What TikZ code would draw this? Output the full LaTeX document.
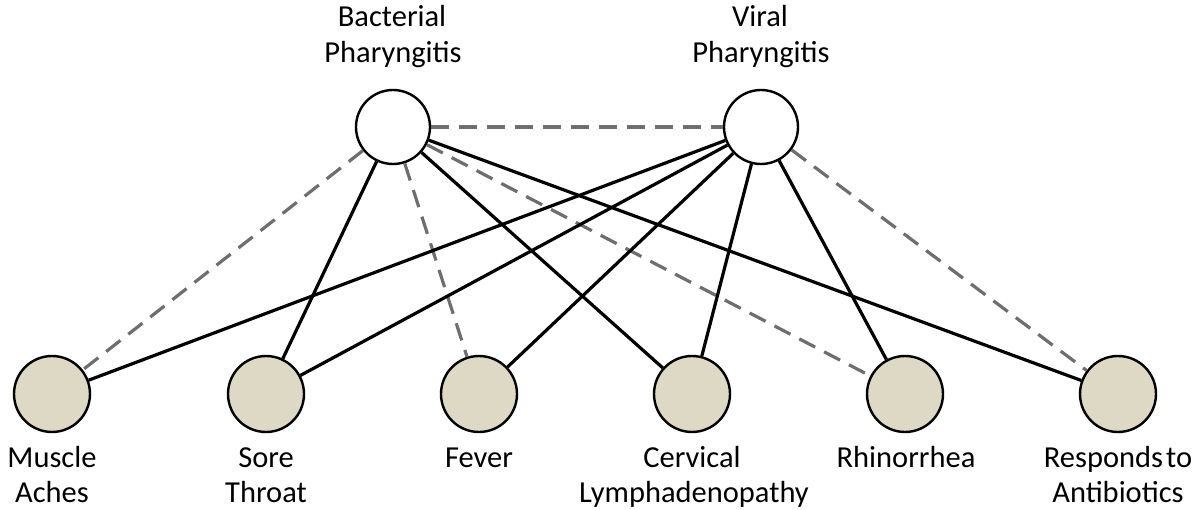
\documentclass[tikz,border=0pt]{standalone}
\usepackage{fontspec}
\setmainfont{Carlito}
\definecolor{tan}{HTML}{DDD9C4}
\definecolor{dgray}{HTML}{6E6E6E}
\tikzset{
  topnode/.style={circle, draw=black, line width=2.4pt, fill=white, minimum size=74pt, inner sep=0pt},
  botnode/.style={circle, draw=black, line width=2.4pt, fill=tan, minimum size=76pt, inner sep=0pt},
  lbl/.style={anchor=base, inner sep=0pt, font=\fontsize{30.5}{36}\selectfont},
  posedge/.style={draw=black, line width=3.2pt},
  negedge/.style={draw=dgray, line width=3.2pt, dash pattern=on 18pt off 10pt},
}
\begin{document}
\begin{tikzpicture}[x=1pt,y=-1pt]
\useasboundingbox (0,0) rectangle (1202,510);
% edges (drawn first, circles on top)
\coordinate (bpc) at (393,127);
\coordinate (vpc) at (761,127);
% top nodes
\node[topnode] (bp) at (bpc) {};
\node[topnode] (vp) at (vpc) {};
% bottom nodes
\node[botnode] (ma) at (52,394) {};
\node[botnode] (st) at (266,394) {};
\node[botnode] (fe) at (479,394) {};
\node[botnode] (cl) at (692,394) {};
\node[botnode] (rh) at (905,394) {};
\node[botnode] (ra) at (1118,394) {};
% edges
\draw[negedge] (bp) -- (vp);
\draw[negedge] (bp) -- (ma);
\draw[posedge] (bp) -- (st);
\draw[negedge] (bp) -- (fe);
\draw[posedge] (bp) -- (cl);
\draw[negedge] (bp) -- (rh);
\draw[posedge] (bp) -- (ra);
\draw[posedge] (vp) -- (ma);
\draw[posedge] (vp) -- (st);
\draw[posedge] (vp) -- (fe);
\draw[posedge] (vp) -- (cl);
\draw[posedge] (vp) -- (rh);
\draw[negedge] (vp) -- (ra);
% labels
\node[lbl] (bp1) at (392,27) {Bacterial};
\node[lbl] (bp2) at (393,63) {Pharyngitis};
\node[lbl] (vp1) at (760,27) {Viral};
\node[lbl] (vp2) at (761,63) {Pharyngitis};
\node[lbl] (ma1) at (52,467) {Muscle};
\node[lbl] (ma2) at (52,502) {Aches};
\node[lbl] (st1) at (266,467) {Sore};
\node[lbl] (st2) at (266,502) {Throat};
\node[lbl] (fe1) at (479,467) {Fever};
\node[lbl] (cl1) at (692,467) {Cervical};
\node[lbl] (cl2) at (694,502) {Lymphadenopathy};
\node[lbl] (rh1) at (906,467) {Rhinorrhea};
\node[lbl] (ra1) at (1118,467) {Responds\hspace{0.1em}to};
\node[lbl] (ra2) at (1118,502) {Antibiotics};
\end{tikzpicture}
\end{document}
